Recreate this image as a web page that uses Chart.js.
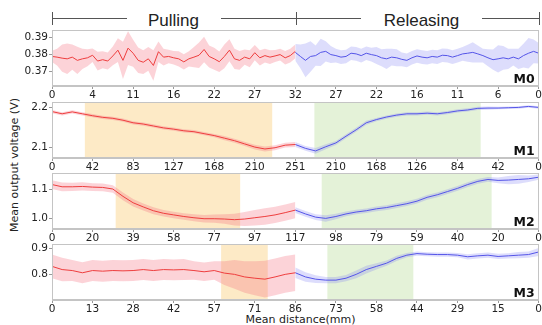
<!DOCTYPE html>
<html><head><meta charset="utf-8">
<script src="https://cdn.jsdelivr.net/npm/chart.js@4"></script>
<style>
html,body{margin:0;padding:0;background:#fff;}
#wrap{position:relative;width:542px;height:325px;overflow:hidden;font-family:"DejaVu Sans",sans-serif;}
#wrap canvas{position:absolute;left:0;}
.t{position:absolute;white-space:nowrap;color:#222;}
.ln{position:absolute;background:#555;}
</style></head><body>
<div id="wrap">
  <div class="ln" style="left:52px;top:18px;width:75px;height:1px"></div>
  <div class="ln" style="left:221px;top:18px;width:140px;height:1px"></div>
  <div class="ln" style="left:482px;top:18px;width:58px;height:1px"></div>
  <div class="ln" style="left:52px;top:12px;width:1px;height:13px"></div>
  <div class="ln" style="left:296px;top:12px;width:1px;height:13px"></div>
  <div class="ln" style="left:539px;top:12px;width:1px;height:13px"></div>
  <div class="t" style="left:173.5px;top:11px;line-height:19px;font-family:'Liberation Sans',sans-serif;font-size:17px;transform:translateX(-50%)">Pulling</div>
  <div class="t" style="left:421.5px;top:11px;line-height:19px;font-family:'Liberation Sans',sans-serif;font-size:17px;transform:translateX(-50%)">Releasing</div>
  <div class="t" style="left:14px;top:165px;font-size:11px;line-height:13px;transform:translate(-50%,-50%) rotate(-90deg)">Mean output voltage (V)</div>
  <div class="t" style="left:300.5px;top:313px;font-size:11px;line-height:13px;transform:translateX(-50%)">Mean distance(mm)</div>
  <canvas id="c0" width="542" height="81"></canvas>
  <canvas id="c1" width="542" height="81"></canvas>
  <canvas id="c2" width="542" height="81"></canvas>
  <canvas id="c3" width="542" height="81"></canvas>
</div>
<script>
// ---- tick labels (distance, mm) ----
const xTicksM0 = ['0','4','11','16','22','27','32','27','22','16','11','6','0'];
const xTicksM1 = ['0','42','83','127','168','210','251','210','168','126','84','42','0'];
const xTicksM2 = ['0','20','39','58','77','97','117','98','79','59','40','20','0'];
const xTicksM3 = ['0','13','28','42','57','71','86','73','58','44','29','15','0'];
const yTicksM0 = [0.37, 0.38, 0.39];
const yTicksM1 = [2.1, 2.2];
const yTicksM2 = [1.0, 1.1];
const yTicksM3 = [0.8, 0.9];
const panelNames = ['M0','M1','M2','M3'];

// ---- M0 ----
const pullM0 = [0.3789,0.3785,0.3779,0.3775,0.3785,0.3766,0.3775,0.3781,0.3796,0.3762,
  0.3770,0.3762,0.3792,0.3826,0.3766,0.3838,0.3808,0.3766,0.3755,0.3775,
  0.3736,0.3817,0.3785,0.3789,0.3781,0.3775,0.3757,0.3775,0.3785,0.3796,
  0.3830,0.3789,0.3775,0.3758,0.3789,0.3826,0.3775,0.3766,0.3785,0.3775,
  0.3811,0.3781,0.3794,0.3785,0.3792,0.3800,0.3781,0.3794,0.3819];
const pullM0Sd = [0.0033,0.005,0.008,0.009,0.0075,0.008,0.006,0.005,0.004,0.0055,
  0.005,0.005,0.0055,0.007,0.011,0.01,0.008,0.0075,0.007,0.007,
  0.009,0.006,0.005,0.004,0.004,0.0045,0.0045,0.0045,0.006,0.0075,
  0.0075,0.0065,0.0065,0.006,0.007,0.0065,0.006,0.0055,0.0045,0.005,
  0.0045,0.0045,0.004,0.004,0.0035,0.0035,0.004,0.004,0.004];
const relM0 = [0.3813,0.3789,0.3766,0.3789,0.3794,0.3813,0.3819,0.3800,0.3794,0.3785,
  0.3789,0.3808,0.3804,0.3794,0.3808,0.3800,0.3794,0.3781,0.3775,0.3785,
  0.3781,0.3772,0.3766,0.3781,0.3792,0.3785,0.3781,0.3789,0.3785,0.3796,
  0.3794,0.3785,0.3794,0.3804,0.3808,0.3813,0.3804,0.3794,0.3781,0.3770,
  0.3775,0.3781,0.3775,0.3785,0.3775,0.3794,0.3808,0.3819,0.3808];
const relM0Sd = [0.005,0.007,0.01,0.009,0.006,0.008,0.006,0.005,0.004,0.004,
  0.004,0.004,0.004,0.004,0.004,0.004,0.005,0.005,0.006,0.005,
  0.005,0.004,0.004,0.004,0.004,0.004,0.004,0.004,0.004,0.004,
  0.004,0.004,0.004,0.004,0.005,0.006,0.005,0.004,0.005,0.006,
  0.008,0.007,0.006,0.005,0.006,0.007,0.009,0.007,0.006];

// ---- M1 ----
const pullM1 = [2.1890,2.1835,2.1882,2.1835,2.1787,2.1748,2.1724,2.1677,2.1614,2.1583,
  2.1535,2.1488,2.1457,2.1417,2.1394,2.1346,2.1299,2.1236,2.1173,2.1094,
  2.1016,2.0969,2.1000,2.1063,2.1079];
const pullM1Sd = [0.004,0.004,0.004,0.004,0.004,0.004,0.004,0.004,0.004,0.004,
  0.004,0.004,0.004,0.004,0.004,0.004,0.004,0.005,0.005,0.005,
  0.006,0.006,0.006,0.006,0.006];
const relM1 = [2.1079,2.0984,2.0921,2.1024,2.1118,2.1283,2.1441,2.1614,2.1693,2.1756,
  2.1803,2.1835,2.1835,2.1850,2.1835,2.1866,2.1906,2.1929,2.1969,2.1976,
  2.1976,2.1984,2.1992,2.2016,2.1992];
const relM1Sd = [0.006,0.006,0.007,0.006,0.005,0.005,0.005,0.005,0.004,0.004,
  0.004,0.004,0.004,0.004,0.004,0.004,0.004,0.004,0.004,0.004,
  0.003,0.003,0.003,0.003,0.003];
const shadeM1 = [0.81, 5.43];
const greenM1 = [6.47, 10.57];

// ---- M2 ----
const pullM2 = [1.1163,1.1087,1.1087,1.1098,1.1076,1.1065,1.1011,1.0761,1.0543,1.0402,
  1.0272,1.0185,1.0130,1.0076,1.0033,1.0000,1.0000,0.9989,0.9967,0.9989,
  1.0033,1.0076,1.0130,1.0207,1.0293];
const pullM2Sd = [0.015,0.015,0.014,0.014,0.013,0.013,0.013,0.013,0.013,0.012,
  0.012,0.011,0.011,0.011,0.012,0.013,0.014,0.016,0.02,0.024,
  0.026,0.028,0.028,0.028,0.028];
const relM2 = [1.0293,1.0163,1.0054,1.0011,1.0076,1.0163,1.0228,1.0272,1.0337,1.0380,
  1.0446,1.0511,1.0598,1.0728,1.0815,1.0924,1.1033,1.1163,1.1272,1.1337,
  1.1304,1.1315,1.1337,1.1359,1.1413];
const relM2Sd = [0.01,0.01,0.01,0.011,0.009,0.008,0.008,0.008,0.008,0.008,
  0.008,0.008,0.008,0.008,0.008,0.008,0.008,0.008,0.008,0.008,
  0.01,0.014,0.015,0.011,0.009];
const shadeM2 = [1.57, 4.64];
const greenM2 = [6.65, 10.84];

// ---- M3 ----
const pullM3 = [0.8305,0.8183,0.8146,0.8061,0.8146,0.8122,0.8146,0.8134,0.8146,0.8183,
  0.8146,0.8183,0.8171,0.8183,0.8146,0.8098,0.8146,0.8049,0.8000,0.7902,
  0.7854,0.7817,0.7902,0.8000,0.8061];
const pullM3Sd = [0.045,0.045,0.04,0.04,0.04,0.04,0.04,0.04,0.04,0.04,
  0.04,0.04,0.04,0.04,0.035,0.035,0.035,0.045,0.055,0.06,
  0.065,0.07,0.07,0.07,0.07];
const relM3 = [0.8061,0.7902,0.7817,0.7780,0.7780,0.7854,0.8000,0.8183,0.8305,0.8427,
  0.8610,0.8732,0.8793,0.8768,0.8756,0.8756,0.8732,0.8671,0.8707,0.8732,
  0.8683,0.8707,0.8732,0.8756,0.8854];
const relM3Sd = [0.02,0.018,0.015,0.012,0.012,0.012,0.015,0.015,0.012,0.01,
  0.01,0.008,0.008,0.008,0.008,0.008,0.008,0.01,0.01,0.01,
  0.01,0.01,0.012,0.012,0.015];
const shadeM3 = [4.17, 5.32];
const greenM3 = [6.79, 8.91];

// ---- styling ----
const RED = 'rgb(238,62,62)';
const RED_BAND = 'rgba(245,110,125,0.30)';
const BLUE = 'rgb(85,85,232)';
const BLUE_BAND = 'rgba(120,120,245,0.25)';
const ORANGE_SPAN = 'rgb(253,234,198)';
const GREEN_SPAN = 'rgb(228,242,216)';
const FRAME = '#c4c4c4';
const TICKFONT = {family:'DejaVu Sans', size:10.5};

function pts(arr, x0, sd, sign) {
  const n = arr.length;
  return arr.map((v, i) => ({x: x0 + i * 6 / (n - 1), y: sd ? v + sign * sd[i] : v}));
}

const spanPlugin = {
  id: 'spans',
  beforeDatasetsDraw(chart, args, opts) {
    const {ctx, chartArea: a, scales: {x}} = chart;
    ctx.save();
    (opts.items || []).forEach(s => {
      const x1 = x.getPixelForValue(s.range[0]), x2 = x.getPixelForValue(s.range[1]);
      ctx.fillStyle = s.color;
      ctx.fillRect(x1, a.top, x2 - x1, a.bottom - a.top);
    });
    ctx.restore();
  }
};
const framePlugin = {
  id: 'frame',
  afterDraw(chart, args, opts) {
    const {ctx, chartArea: a} = chart;
    ctx.save();
    ctx.strokeStyle = FRAME; ctx.lineWidth = 1;
    ctx.strokeRect(Math.round(a.left) + 0.5, Math.round(a.top) + 0.5,
                   Math.round(a.right - a.left) - 1, Math.round(a.bottom - a.top) - 1);
    ctx.fillStyle = '#111';
    ctx.font = 'bold 12.5px "DejaVu Sans"';
    ctx.textAlign = 'right'; ctx.textBaseline = 'alphabetic';
    ctx.fillText(opts.name, a.right - 4, a.bottom - 3);
    ctx.restore();
  }
};

const panels = [
  {id:'c0', top:28, xt:xTicksM0, yt:yTicksM0, dec:2, ymin:0.3615, ymax:0.3943,
   pull:pullM0, pullSd:pullM0Sd, rel:relM0, relSd:relM0Sd, spans:[]},
  {id:'c1', top:100, xt:xTicksM1, yt:yTicksM1, dec:1, ymin:2.0747, ymax:2.2118,
   pull:pullM1, pullSd:pullM1Sd, rel:relM1, relSd:relM1Sd,
   spans:[{range:shadeM1,color:ORANGE_SPAN},{range:greenM1,color:GREEN_SPAN}]},
  {id:'c2', top:171, xt:xTicksM2, yt:yTicksM2, dec:1, ymin:0.965, ymax:1.1546,
   pull:pullM2, pullSd:pullM2Sd, rel:relM2, relSd:relM2Sd,
   spans:[{range:shadeM2,color:ORANGE_SPAN},{range:greenM2,color:GREEN_SPAN}]},
  {id:'c3', top:242, xt:xTicksM3, yt:yTicksM3, dec:1, ymin:0.7022, ymax:0.9147,
   pull:pullM3, pullSd:pullM3Sd, rel:relM3, relSd:relM3Sd,
   spans:[{range:shadeM3,color:ORANGE_SPAN},{range:greenM3,color:GREEN_SPAN}]}
];

panels.forEach((p, k) => {
  const cv = document.getElementById(p.id);
  cv.style.top = (p.top - 5) + 'px';
  const band = (d, color) => ({data:d, borderWidth:0, pointRadius:0, fill:false, order:1, backgroundColor:color});
  new Chart(cv, {
    type: 'line',
    data: {
      datasets: [
        band(pts(p.pull, 0, p.pullSd, 1), RED_BAND),
        Object.assign(band(pts(p.pull, 0, p.pullSd, -1), RED_BAND), {fill:'-1'}),
        band(pts(p.rel, 6, p.relSd, 1), BLUE_BAND),
        Object.assign(band(pts(p.rel, 6, p.relSd, -1), BLUE_BAND), {fill:'-1'}),
        {data:pts(p.pull, 0), borderColor:RED, borderWidth:1, pointRadius:0, fill:false, order:0, tension:0},
        {data:pts(p.rel, 6), borderColor:BLUE, borderWidth:1, pointRadius:0, fill:false, order:0, tension:0}
      ]
    },
    options: {
      responsive:false, animation:false, devicePixelRatio:1,
      layout:{padding:{top:5, right:2, left:0, bottom:0}},
      plugins:{legend:{display:false}, tooltip:{enabled:false},
               spans:{items:p.spans}, frame:{name:panelNames[k]}},
      scales:{
        x:{type:'linear', min:0, max:12,
           afterFit(s){ s.height = 18; },
           afterBuildTicks(s){ s.ticks = p.xt.map((_, i) => ({value:i})); },
           ticks:{autoSkip:false, maxRotation:0, padding:0, color:'#222', font:TICKFONT,
                  callback:(v) => p.xt[Math.round(v)]},
           grid:{drawOnChartArea:false, tickLength:3, color:'#999'},
           border:{color:FRAME}},
        y:{min:p.ymin, max:p.ymax,
           afterFit(s){ s.width = 52; },
           afterBuildTicks(s){ s.ticks = p.yt.map(v => ({value:v})); },
           ticks:{padding:1, color:'#222', font:TICKFONT, callback:(v) => Number(v).toFixed(p.dec)},
           grid:{drawOnChartArea:false, tickLength:3, color:'#999'},
           border:{color:FRAME}}
      }
    },
    plugins:[spanPlugin, framePlugin]
  });
});
</script>
</body></html>
